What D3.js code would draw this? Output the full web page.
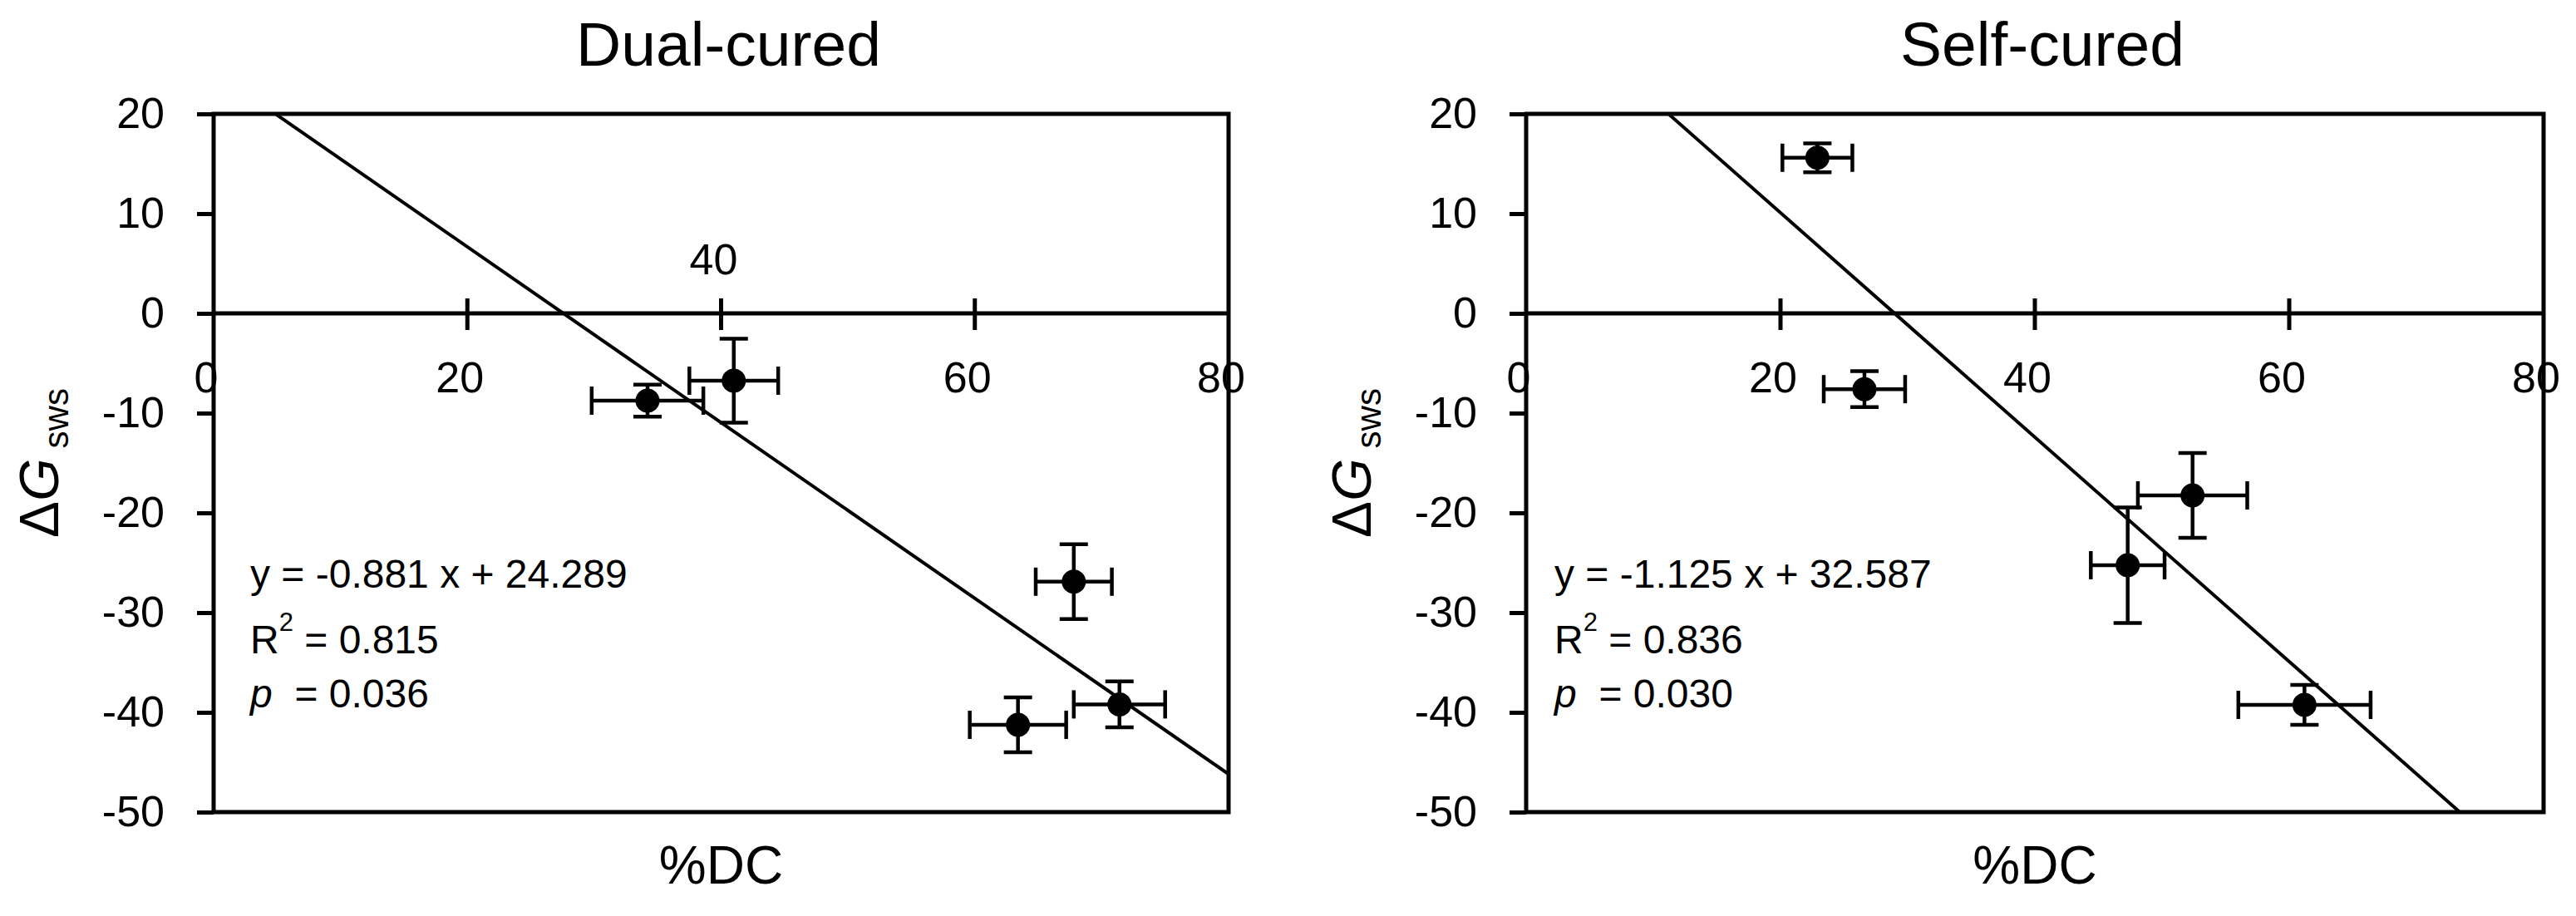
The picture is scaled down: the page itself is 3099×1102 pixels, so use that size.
<!DOCTYPE html>
<html>
<head>
<meta charset="utf-8">
<style>
body { margin: 0; background: #fff; }
svg { display: block; }
text { font-family: "Liberation Sans", Arial, sans-serif; fill: #000; }
.tick text { font-size: 52px; }
.frame, .zero, .xtick, .domain, .tick line { stroke: #000; stroke-width: 5px; fill: none; }
.fit { stroke: #000; stroke-width: 4px; fill: none; }
.err { stroke: #000; stroke-width: 4.5px; }
.dot { fill: #000; }
.note { font-size: 48px; white-space: pre; }
</style>
</head>
<body>
<svg width="3099" height="1102"></svg>
<script src="https://d3js.org/d3.v7.min.js"></script>
<script>

// values
var xTicks = [0, 20, 40, 60, 80];
var yTicks = [-50, -40, -30, -20, -10, 0, 10, 20];

var dualX    = [34.2, 41.0, 67.8, 63.4, 71.4];
var dualY    = [-8.75, -6.75, -26.9, -41.25, -39.2];
var dualXErr = [4.4, 3.5, 3.0, 3.8, 3.6];
var dualYErr = [1.6, 4.2, 3.75, 2.75, 2.3];
var dualFit  = [-0.881, 24.289];
var dualNote = ["y = -0.881 x + 24.289", "0.815", "0.036"];

var selfX    = [22.9, 26.6, 47.3, 52.4, 61.2];
var selfY    = [15.6, -7.6, -25.25, -18.25, -39.25];
var selfXErr = [2.75, 3.2, 2.9, 4.3, 5.2];
var selfYErr = [1.45, 1.8, 5.8, 4.25, 2.0];
var selfFit  = [-1.125, 32.587];
var selfNote = ["y = -1.125 x + 32.587", "0.836", "0.030"];

var svg = d3.select("svg");
var top_ = 137, bottom_ = 977;

function panel(id, left, right, title, xs, ys, xe, ye, fit, note, raised, noteX) {
  var x = d3.scaleLinear().domain([0, 80]).range([left, right]);
  var y = d3.scaleLinear().domain([-50, 20]).range([bottom_, top_]);
  var g = svg.append("g");
  var cx = (left + right) / 2;

  g.append("clipPath").attr("id", "clip" + id)
    .append("rect").attr("x", left).attr("y", top_)
    .attr("width", right - left).attr("height", bottom_ - top_);

  g.append("text").attr("x", cx + 9).attr("y", 79)
    .attr("text-anchor", "middle").style("font-size", "75px").text(title);

  // x tick labels (Excel left the 40 above the axis in one panel)
  g.selectAll(".xlab").data(xTicks).enter().append("text")
    .attr("class", "xlab")
    .attr("x", function(d) { return x(d) - 9; })
    .attr("y", function(d) { return raised.indexOf(d) >= 0 ? 330 : 472; })
    .attr("text-anchor", "middle").style("font-size", "52px")
    .text(function(d) { return d; });

  var ya = g.append("g").attr("transform", "translate(" + left + ",0)")
    .call(d3.axisLeft(y).tickValues(yTicks).tickSize(20).tickSizeOuter(0).tickPadding(39)
      .tickFormat(function(d) { return String(d); }));
  ya.select(".domain").remove();

  g.append("rect").attr("class", "frame")
    .attr("x", left).attr("y", top_)
    .attr("width", right - left).attr("height", bottom_ - top_);

  g.append("line").attr("class", "zero")
    .attr("x1", left).attr("x2", right).attr("y1", y(0)).attr("y2", y(0));
  g.selectAll(".xtick").data(xTicks.slice(1, -1)).enter().append("line")
    .attr("class", "xtick")
    .attr("x1", x).attr("x2", x)
    .attr("y1", y(0) - 18).attr("y2", y(0) + 20);

  // fitted line
  g.append("line").attr("class", "fit").attr("clip-path", "url(#clip" + id + ")")
    .attr("x1", x(0)).attr("y1", y(fit[1]))
    .attr("x2", x(80)).attr("y2", y(fit[0] * 80 + fit[1]));

  var pts = xs.map(function(v, i) { return {x: v, y: ys[i], ex: xe[i], ey: ye[i]}; });
  var cap = 17;
  var e = g.selectAll(".pt").data(pts).enter().append("g").attr("class", "pt");
  e.append("line").attr("class", "err")
    .attr("x1", function(d) { return x(d.x - d.ex); }).attr("x2", function(d) { return x(d.x + d.ex); })
    .attr("y1", function(d) { return y(d.y); }).attr("y2", function(d) { return y(d.y); });
  e.append("line").attr("class", "err")
    .attr("x1", function(d) { return x(d.x); }).attr("x2", function(d) { return x(d.x); })
    .attr("y1", function(d) { return y(d.y - d.ey); }).attr("y2", function(d) { return y(d.y + d.ey); });
  [-1, 1].forEach(function(s) {
    e.append("line").attr("class", "err")
      .attr("x1", function(d) { return x(d.x + s * d.ex); }).attr("x2", function(d) { return x(d.x + s * d.ex); })
      .attr("y1", function(d) { return y(d.y) - cap; }).attr("y2", function(d) { return y(d.y) + cap; });
    e.append("line").attr("class", "err")
      .attr("x1", function(d) { return x(d.x) - cap; }).attr("x2", function(d) { return x(d.x) + cap; })
      .attr("y1", function(d) { return y(d.y + s * d.ey); }).attr("y2", function(d) { return y(d.y + s * d.ey); });
  });
  e.append("circle").attr("class", "dot")
    .attr("cx", function(d) { return x(d.x); }).attr("cy", function(d) { return y(d.y); })
    .attr("r", 14.5);

  // regression note
  var nx = left + noteX;
  g.append("text").attr("class", "note").attr("x", nx).attr("y", 707).text(note[0]);
  var r2 = g.append("text").attr("class", "note").attr("x", nx).attr("y", 786);
  r2.append("tspan").text("R");
  r2.append("tspan").attr("dy", -27).style("font-size", "31px").text("2");
  r2.append("tspan").attr("dy", 27).text(" = " + note[1]);
  var p = g.append("text").attr("class", "note").attr("x", nx).attr("y", 851);
  p.append("tspan").style("font-style", "italic").text("p");
  p.append("tspan").text("  = " + note[2]);

  // axis titles
  g.append("text").attr("x", cx).attr("y", 1063).attr("text-anchor", "middle")
    .style("font-size", "64px").text("%DC");
  var yl = g.append("text").attr("text-anchor", "middle")
    .attr("transform", "translate(" + (left - 187) + "," + ((top_ + bottom_) / 2) + ") rotate(-90)")
    .style("font-size", "66px");
  yl.append("tspan").text("\u0394");
  yl.append("tspan").style("font-style", "italic").text("G");
  yl.append("tspan").attr("dx", 12).attr("dy", 12).style("font-size", "42px").text("sws");
}

panel("a", 257, 1478, "Dual-cured", dualX, dualY, dualXErr, dualYErr, dualFit, dualNote, [40], 44);
panel("b", 1836, 3060, "Self-cured", selfX, selfY, selfXErr, selfYErr, selfFit, selfNote, [], 34);

</script>
</body>
</html>
